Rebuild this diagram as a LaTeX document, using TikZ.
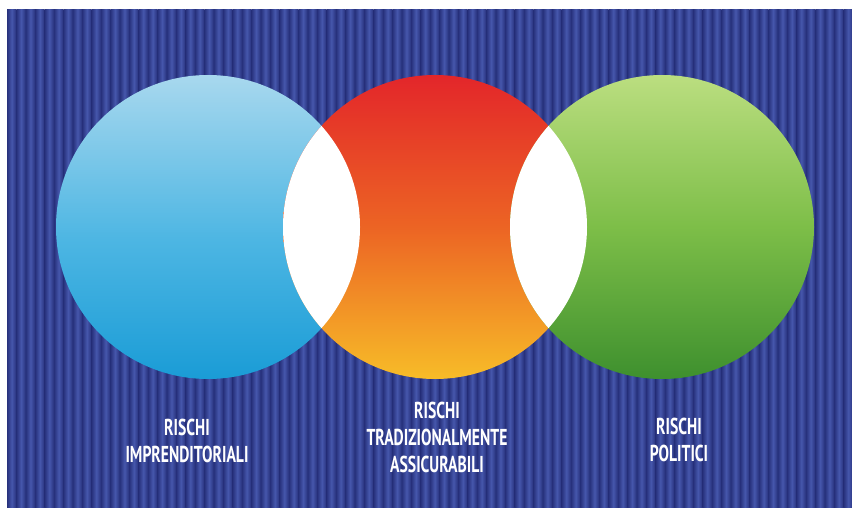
\documentclass[tikz,border=0pt]{standalone}
\usepackage{fontspec}
\newfontfamily\lblfont{PT Sans}[FakeStretch=0.68]
\definecolor{navyD}{HTML}{27317C}
\definecolor{navyL}{HTML}{4657AC}
\definecolor{navyB}{HTML}{2F3B8E}
\definecolor{blueT}{HTML}{A8D8EE}
\definecolor{blueM}{HTML}{4DB6E3}
\definecolor{blueB}{HTML}{1A9CD6}
\definecolor{redT}{HTML}{E3262A}
\definecolor{redM}{HTML}{EC6424}
\definecolor{redB}{HTML}{F7BC28}
\definecolor{grnT}{HTML}{BBDE80}
\definecolor{grnM}{HTML}{7DBE48}
\definecolor{grnB}{HTML}{3E902E}
\pgfdeclarehorizontalshading{stripeshade}{100bp}{color(0bp)=(navyD); color(25bp)=(navyD); color(50bp)=(navyL); color(75bp)=(navyD); color(100bp)=(navyD)}
\pgfdeclareverticalshading{blueshade}{100bp}{color(0bp)=(blueB); color(25bp)=(blueB); color(48bp)=(blueM); color(75bp)=(blueT); color(100bp)=(blueT)}
\pgfdeclareverticalshading{redshade}{100bp}{color(0bp)=(redB); color(25bp)=(redB); color(50bp)=(redM); color(75bp)=(redT); color(100bp)=(redT)}
\pgfdeclareverticalshading{greenshade}{100bp}{color(0bp)=(grnB); color(25bp)=(grnB); color(50bp)=(grnM); color(75bp)=(grnT); color(100bp)=(grnT)}
\tikzset{
  ring/.style={circle, minimum size=304pt, inner sep=0pt, outer sep=0pt},
  lbl/.style={anchor=north, inner sep=0pt, outer sep=0pt, align=center, text=white,
    font=\lblfont\bfseries\fontsize{23}{27}\selectfont}
}
\begin{document}
\begin{tikzpicture}[x=1pt,y=-1pt]
\useasboundingbox (0,0) rectangle (852,508);
\fill[white] (0,0) rectangle (852,508);
% striped panel
\fill[navyB] (7,10) rectangle (852,508);
\begin{scope}
\clip (7,10) rectangle (852,508);
\foreach \i in {0,...,90} {
  \shade[shading=stripeshade] ({7+9.4*\i},10) rectangle ({7+9.4*\i+9.4},508);
}
\end{scope}
% circles
\node[ring, shading=blueshade] (left) at (208,227) {};
\node[ring, shading=redshade] (mid) at (435,227) {};
\node[ring, shading=greenshade] (right) at (662,227) {};
% white lenses
\begin{scope}
\clip (208,227) circle (152);
\fill[white] (435,227) circle (152);
\end{scope}
\begin{scope}
\clip (435,227) circle (152);
\fill[white] (662,227) circle (152);
\end{scope}
% labels
\node[lbl] (tl) at (187,419) {RISCHI\\IMPRENDITORIALI};
\node[lbl] (tm) at (437,402) {RISCHI\\TRADIZIONALMENTE\\ASSICURABILI};
\node[lbl] (tr) at (679,418) {RISCHI\\POLITICI};
\end{tikzpicture}
\end{document}
